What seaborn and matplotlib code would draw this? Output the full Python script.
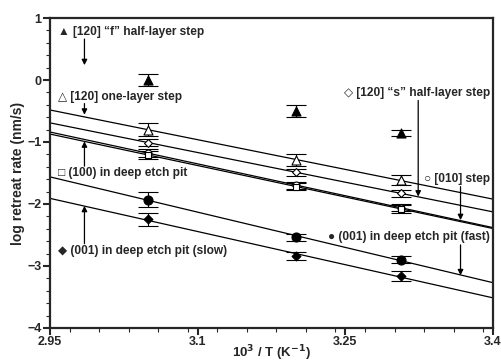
import seaborn as sns
import pandas as pd
import matplotlib.pyplot as plt
from matplotlib.ticker import MultipleLocator, FixedLocator
import numpy as np

# inverse temperature (10^3 / T)
inv_t = [3.05, 3.2, 3.307]

# log retreat rates
f_half = [0.0, -0.50, -0.86]
one_layer = [-0.80, -1.29, -1.62]
s_half = [-1.01, -1.49, -1.83]
step_010 = [-1.18, -1.70, -2.06]
pit_100 = [-1.21, -1.72, -2.08]
pit_001_fast = [-1.93, -2.54, -2.90]
pit_001_slow = [-2.25, -2.84, -3.16]

err_f = [0.10, 0.10, 0.05]
err_one = [0.10, 0.10, 0.08]
err_small = [0.06, 0.06, 0.06]
err_fast = [0.12, 0.06, 0.06]
err_slow = [0.10, 0.06, 0.08]

xticks = [2.95, 3.1, 3.25, 3.4]
xticklabels = ["2.95", "3.1", "3.25", "3.4"]
yticks = [-4, -3, -2, -1, 0, 1]

series = [
	("f", f_half, err_f, "^", "black", 6.5),
	("one", one_layer, err_one, "^", "white", 6.5),
	("s", s_half, err_small, "D", "white", 4),
	("010", step_010, err_small, "o", "white", 5),
	("100", pit_100, err_small, "s", "white", 5),
	("fast", pit_001_fast, err_fast, "o", "black", 6.5),
	("slow", pit_001_slow, err_slow, "D", "black", 4.5),
]

rows = []
for name, vals, errs, _, _, _ in series:
	for x, y, e in zip(inv_t, vals, errs):
		rows.append({"x": x, "y": y, "err": e, "series": name})
df = pd.DataFrame(rows)

sns.set_theme(style="ticks")
plt.rcParams['font.family'] = ['Liberation Sans', 'DejaVu Sans']
plt.rcParams['font.weight'] = 'bold'

fig = plt.figure(figsize=(5.02, 3.64), dpi=100)
ax = fig.add_axes([0.0996, 0.099, 0.8825, 0.8515])

for name, vals, errs, marker, face, ms in series:
	sub = df[df["series"] == name]
	sns.regplot(data=sub, x="x", y="y", scatter=False, ci=None, truncate=False,
				line_kws={"color": "black", "lw": 0.9}, ax=ax)
	ax.errorbar(sub["x"], sub["y"], yerr=sub["err"], fmt="none", ecolor="black",
				elinewidth=0.8, capsize=7, capthick=0.8, zorder=3)
	sns.scatterplot(data=sub, x="x", y="y", marker=marker, s=ms ** 2, color=face,
					edgecolor="black", linewidth=0.8, zorder=4, ax=ax, legend=False)

ax.set_xlim(2.95, 3.4)
ax.set_ylim(-4, 1)
ax.xaxis.set_major_locator(FixedLocator(xticks))
ax.set_xticklabels(xticklabels)
ax.xaxis.set_minor_locator(MultipleLocator(0.03))
ax.yaxis.set_major_locator(FixedLocator(yticks))
ax.yaxis.set_minor_locator(MultipleLocator(0.2))
ax.tick_params(which="major", direction="out", length=5, width=1.5, labelsize=9, pad=1)
ax.tick_params(which="minor", direction="out", length=3, width=0.8)
for lab in ax.get_xticklabels() + ax.get_yticklabels():
	lab.set_fontweight("bold")
for sp in ax.spines.values():
	sp.set_linewidth(1.6)
	sp.set_visible(True)

ax.set_xlabel("10$^\\mathbf{3}$ / T (K$^\\mathbf{-1}$)", fontsize=9.5, fontweight="bold", labelpad=-3.5)
ax.set_ylabel("log retreat rate (nm/s)", fontsize=10, fontweight="bold", labelpad=2)

fs = 8.6
arrow = dict(arrowstyle="-|>", color="black", lw=0.9, mutation_scale=8, shrinkA=0, shrinkB=0)

ax.text(2.958, 0.77, "\u25b2 [120] \u201cf\u201d half-layer step", fontsize=fs, fontweight="bold", va="center")
ax.annotate("", xy=(2.985, 0.24), xytext=(2.985, 0.66), arrowprops=arrow)

ax.text(2.958, -0.27, "\u25b3 [120] one-layer step", fontsize=fs, fontweight="bold", va="center")
ax.annotate("", xy=(2.985, -0.56), xytext=(2.985, -0.38), arrowprops=arrow)

ax.text(2.958, -1.50, "\u25a1 (100) in deep etch pit", fontsize=fs, fontweight="bold", va="center")
ax.annotate("", xy=(2.985, -0.99), xytext=(2.985, -1.39), arrowprops=arrow)

ax.text(2.958, -2.76, "\u25c6 (001) in deep etch pit (slow)", fontsize=fs, fontweight="bold", va="center")
ax.annotate("", xy=(2.985, -2.03), xytext=(2.985, -2.64), arrowprops=arrow)

ax.text(3.397, -0.21, "\u25c7 [120] \u201cs\u201d half-layer step", fontsize=fs, fontweight="bold",
		va="center", ha="right")
ax.annotate("", xy=(3.324, -1.88), xytext=(3.324, -0.33), arrowprops=arrow)

ax.text(3.397, -1.60, "\u25cb [010] step", fontsize=fs, fontweight="bold", va="center", ha="right")
ax.annotate("", xy=(3.367, -2.26), xytext=(3.367, -1.72), arrowprops=arrow)

ax.text(3.397, -2.54, "\u25cf (001) in deep etch pit (fast)", fontsize=fs, fontweight="bold",
		va="center", ha="right")
ax.annotate("", xy=(3.367, -3.15), xytext=(3.367, -2.66), arrowprops=arrow)

fig.savefig("out.png", dpi=100)
